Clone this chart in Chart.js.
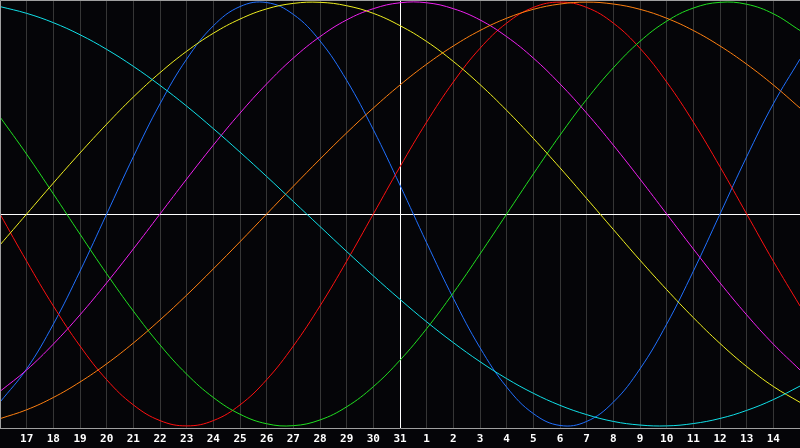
<!DOCTYPE html>
<html>
<head>
<meta charset="utf-8">
<script src="https://cdn.jsdelivr.net/npm/chart.js@4.4.1/dist/chart.umd.min.js"></script>
<style>
  html, body { margin: 0; padding: 0; background: #050508; }
  canvas { display: block; }
</style>
</head>
<body>
<canvas id="bioChart" width="800" height="448"></canvas>
<script>
// days shown (first and last are the chart edges, not labelled)
const days = ['16','17','18','19','20','21','22','23','24','25','26','27','28','29','30','31',
              '1','2','3','4','5','6','7','8','9','10','11','12','13','14','15'];

// rhythm values, -100 .. 100
const physical     = [-88.8,-73.1,-52.0,-27.0,0,27.0,52.0,73.1,88.8,97.9,99.8,94.2,81.7,63.1,39.8,13.6,-13.6,-39.8,-63.1,-81.7,-94.2,-99.8,-97.9,-88.8,-73.1,-52.0,-27.0,0,27.0,52.0,73.1];
const emotional    = [0,-22.3,-43.4,-62.3,-78.2,-90.1,-97.5,-100,-97.5,-90.1,-78.2,-62.3,-43.4,-22.3,0,22.3,43.4,62.3,78.2,90.1,97.5,100,97.5,90.1,78.2,62.3,43.4,22.3,0,-22.3,-43.4];
const intellectual = [45.8,28.2,9.5,-9.5,-28.2,-45.8,-61.8,-75.6,-86.6,-94.5,-99.0,-99.9,-97.2,-91.0,-81.5,-69.0,-54.1,-37.2,-18.9,0,18.9,37.2,54.1,69.0,81.5,91.0,97.2,99.9,99.0,94.5,86.6];
const intuitive    = [-83.7,-73.6,-61.4,-47.6,-32.5,-16.5,0,16.5,32.5,47.6,61.4,73.6,83.7,91.6,96.9,99.7,99.7,96.9,91.6,83.7,73.6,61.4,47.6,32.5,16.5,0,-16.5,-32.5,-47.6,-61.4,-73.6];
const aesthetic    = [-14.6,0,14.6,28.8,42.4,55.2,66.7,76.8,85.3,92.0,96.8,99.4,99.9,98.3,94.7,88.9,81.4,72.0,61.1,48.9,35.7,21.8,7.3,-7.3,-21.8,-35.7,-48.9,-61.1,-72.0,-81.4,-88.9];
const awareness    = [-96.6,-92.4,-86.6,-79.3,-70.7,-60.9,-50,-38.3,-25.9,-13.1,0,13.1,25.9,38.3,50,60.9,70.7,79.3,86.6,92.4,96.6,99.1,100,99.1,96.6,92.4,86.6,79.3,70.7,60.9,50];
const spiritual    = [97.9,94.7,90.3,84.6,77.7,69.7,60.7,50.9,40.3,29.2,17.7,5.9,-5.9,-17.7,-29.2,-40.3,-50.9,-60.7,-69.7,-77.7,-84.6,-90.3,-94.7,-97.9,-99.6,-100,-98.9,-96.5,-92.7,-87.6,-81.2];

const todayIndex = days.indexOf('31');

function line(label, data, color) {
    return {
        label: label,
        data: data,
        borderColor: color,
        borderWidth: 1,
        pointRadius: 0,
        tension: 0.4,
        fill: false
    };
}

// black background + frame round the plot
const framePlugin = {
    id: 'frame',
    beforeDraw(chart) {
        const c = chart.ctx;
        c.save();
        c.fillStyle = '#050508';
        c.fillRect(0, 0, chart.width, chart.height);
        c.restore();
    },
    afterDraw(chart) {
        const a = chart.chartArea;
        const c = chart.ctx;
        c.save();
        c.strokeStyle = '#a0a0a0';
        c.lineWidth = 1;
        c.beginPath();
        c.moveTo(a.left + 0.5, a.bottom);
        c.lineTo(a.left + 0.5, a.top + 0.5);
        c.lineTo(a.right, a.top + 0.5);
        c.stroke();
        c.restore();
    }
};

const ctx = document.getElementById('bioChart').getContext('2d');
const bioChart = new Chart(ctx, {
    type: 'line',
    data: {
        labels: days,
        datasets: [
            line('Spiritual', spiritual, '#10e0e8'),
            line('Aesthetic', aesthetic, '#f0f020'),
            line('Self-awareness', awareness, '#ff8010'),
            line('Intuitive', intuitive, '#f020f0'),
            line('Intellectual', intellectual, '#20e020'),
            line('Emotional', emotional, '#ff1010'),
            line('Physical', physical, '#2070ff')
        ]
    },
    options: {
        responsive: false,
        animation: false,
        layout: { padding: 0 },
        plugins: {
            legend: { display: false },
            tooltip: { enabled: false }
        },
        scales: {
            x: {
                offset: false,
                afterFit: (s) => { s.paddingLeft = 0; s.paddingRight = 0; s.height = 20; },
                grid: {
                    drawTicks: false,
                    color: (c) => c.index === todayIndex ? '#ffffff' : '#363636'
                },
                border: { display: true, color: '#a0a0a0' },
                ticks: {
                    autoSkip: false,
                    maxRotation: 0,
                    padding: 5,
                    color: '#ffffff',
                    font: { family: 'DejaVu Sans Mono', size: 11, weight: 'bold' },
                    callback: function (val, i) {
                        return (i === 0 || i === days.length - 1) ? '' : days[i];
                    }
                }
            },
            y: {
                min: -101,
                max: 101,
                afterFit: (s) => { s.width = 0; },
                afterBuildTicks: (s) => { s.ticks = [{ value: 0 }]; },
                grid: {
                    drawTicks: false,
                    color: '#ffffff'
                },
                border: { display: false },
                ticks: { display: false }
            }
        }
    },
    plugins: [framePlugin]
});
</script>
</body>
</html>
